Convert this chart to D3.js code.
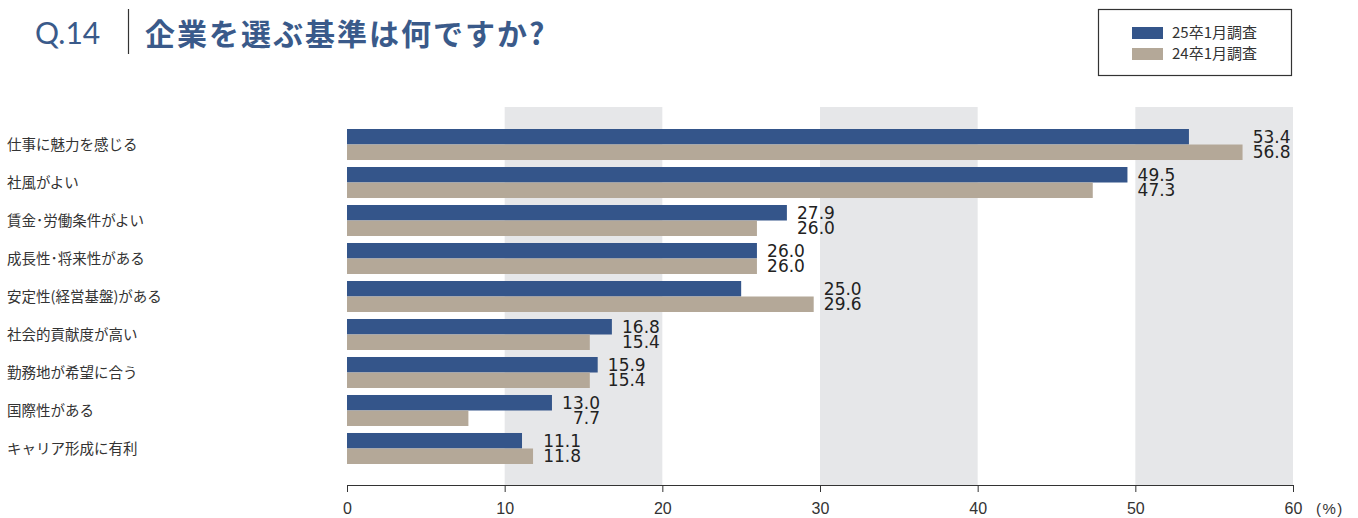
<!DOCTYPE html>
<html>
<head>
<meta charset="utf-8">
<script src="https://cdn.jsdelivr.net/npm/d3@7"></script>
<style>
  body { margin: 0; background: #fff; }
  text { font-family: "Liberation Sans", Arial, sans-serif; }
  .jp { font-family: "Noto Sans CJK JP", sans-serif; }
  .val { font-family: "DejaVu Sans", sans-serif; }
  .qno { font-family: Lato, sans-serif; }
</style>
</head>
<body>
<div id="chart"></div>
<script>
// categories and values
var categories = ["仕事に魅力を感じる", "社風がよい", "賃金･労働条件がよい", "成長性･将来性がある",
    "安定性(経営基盤)がある", "社会的貢献度が高い", "勤務地が希望に合う", "国際性がある", "キャリア形成に有利"];
var values25 = [53.4, 49.5, 27.9, 26.0, 25.0, 16.8, 15.9, 13.0, 11.1];
var values24 = [56.8, 47.3, 26.0, 26.0, 29.6, 15.4, 15.4, 7.7, 11.8];
var seriesNames = ["25卒1月調査", "24卒1月調査"];
var xTicks = [0, 10, 20, 30, 40, 50, 60];
var bands = [[10, 20], [30, 40], [50, 60]];

var w = 1358, h = 518;
var blue = "#34558a", tan = "#b4a898";

var svg = d3.select("#chart").append("svg")
    .attr("width", w)
    .attr("height", h);

var x = d3.scaleLinear().domain([0, 60]).range([347, 1293]);
var y = d3.scaleBand().domain(categories).range([110, 483])
    .paddingInner(0.184).paddingOuter(0.5);
var ySub = d3.scaleBand().domain(seriesNames).range([0, y.bandwidth()]);

// grey background bands
svg.selectAll("rect.band").data(bands).enter().append("rect")
    .attr("class", "band")
    .attr("x", d => x(d[0]))
    .attr("width", d => x(d[1]) - x(d[0]))
    .attr("y", 107)
    .attr("height", 485 - 107)
    .attr("fill", "#e6e7e9");

var rows = categories.map((c, i) => ({ cat: c, v: [values25[i], values24[i]] }));

var g = svg.selectAll("g.row").data(rows).enter().append("g")
    .attr("class", "row")
    .attr("transform", d => `translate(0,${y(d.cat)})`);

g.selectAll("rect").data(d => d.v.map((v, j) => ({ v: v, s: seriesNames[j] }))).enter()
    .append("rect")
    .attr("x", x(0))
    .attr("y", d => ySub(d.s))
    .attr("width", d => x(d.v) - x(0))
    .attr("height", ySub.bandwidth())
    .attr("fill", d => d.s === seriesNames[0] ? blue : tan);

// value labels, right aligned just past the longer bar
g.each(function(d) {
    var right = x(d3.max(d.v)) + 48;
    d3.select(this).selectAll("text.val").data(d.v).enter().append("text")
        .attr("class", "val")
        .attr("x", right)
        .attr("y", (v, j) => ySub(seriesNames[j]) + ySub.bandwidth() / 2)
        .attr("dy", "0.36em")
        .attr("text-anchor", "end")
        .attr("font-size", 17)
        .attr("fill", "#222")
        .text(v => v.toFixed(1));
});

// category labels
svg.selectAll("text.cat").data(categories).enter().append("text")
    .attr("class", "cat jp")
    .attr("x", 7)
    .attr("y", d => y(d) + y.bandwidth() / 2)
    .attr("dy", "0.35em")
    .attr("font-size", 14.5)
    .attr("fill", "#333")
    .text(d => d);

// x axis
var axis = svg.append("g")
    .attr("transform", "translate(0,485)")
    .call(d3.axisBottom(x).tickValues(xTicks).tickSize(7).tickSizeOuter(0).tickPadding(11));
axis.select(".domain").attr("stroke", "#333");
axis.selectAll(".tick line").attr("stroke", "#333");
axis.selectAll(".tick text").attr("font-size", 16).attr("fill", "#333");

svg.append("text")
    .attr("x", 1316).attr("y", 514)
    .attr("font-size", 15).attr("fill", "#333")
    .attr("letter-spacing", 1.5)
    .text("(%)");

// title
svg.append("text")
    .attr("class", "qno")
    .attr("x", 35).attr("y", 44)
    .attr("font-size", 30).attr("font-weight", 400)
    .attr("fill", "#3a5a8a")
    .text("Q.14");
svg.append("line")
    .attr("x1", 128.5).attr("x2", 128.5).attr("y1", 9).attr("y2", 54)
    .attr("stroke", "#333").attr("stroke-width", 1.2);
svg.append("text")
    .attr("class", "jp")
    .attr("x", 145).attr("y", 45)
    .attr("font-size", 30).attr("font-weight", 700)
    .attr("fill", "#3a5a8a")
    .attr("letter-spacing", 2)
    .text("企業を選ぶ基準は何ですか?");

// legend
svg.append("rect")
    .attr("x", 1098.5).attr("y", 9.5).attr("width", 193).attr("height", 66)
    .attr("fill", "none").attr("stroke", "#333").attr("stroke-width", 1.2);
var lg = svg.selectAll("g.leg").data(seriesNames).enter().append("g")
    .attr("class", "leg")
    .attr("transform", (d, i) => `translate(1132,${27 + i * 21})`);
lg.append("rect").attr("width", 31).attr("height", 12)
    .attr("fill", (d, i) => i === 0 ? blue : tan);
lg.append("text").attr("class", "jp")
    .attr("x", 40).attr("y", 6).attr("dy", "0.35em")
    .attr("font-size", 15).attr("fill", "#333")
    .text(d => d);
</script>
</body>
</html>
